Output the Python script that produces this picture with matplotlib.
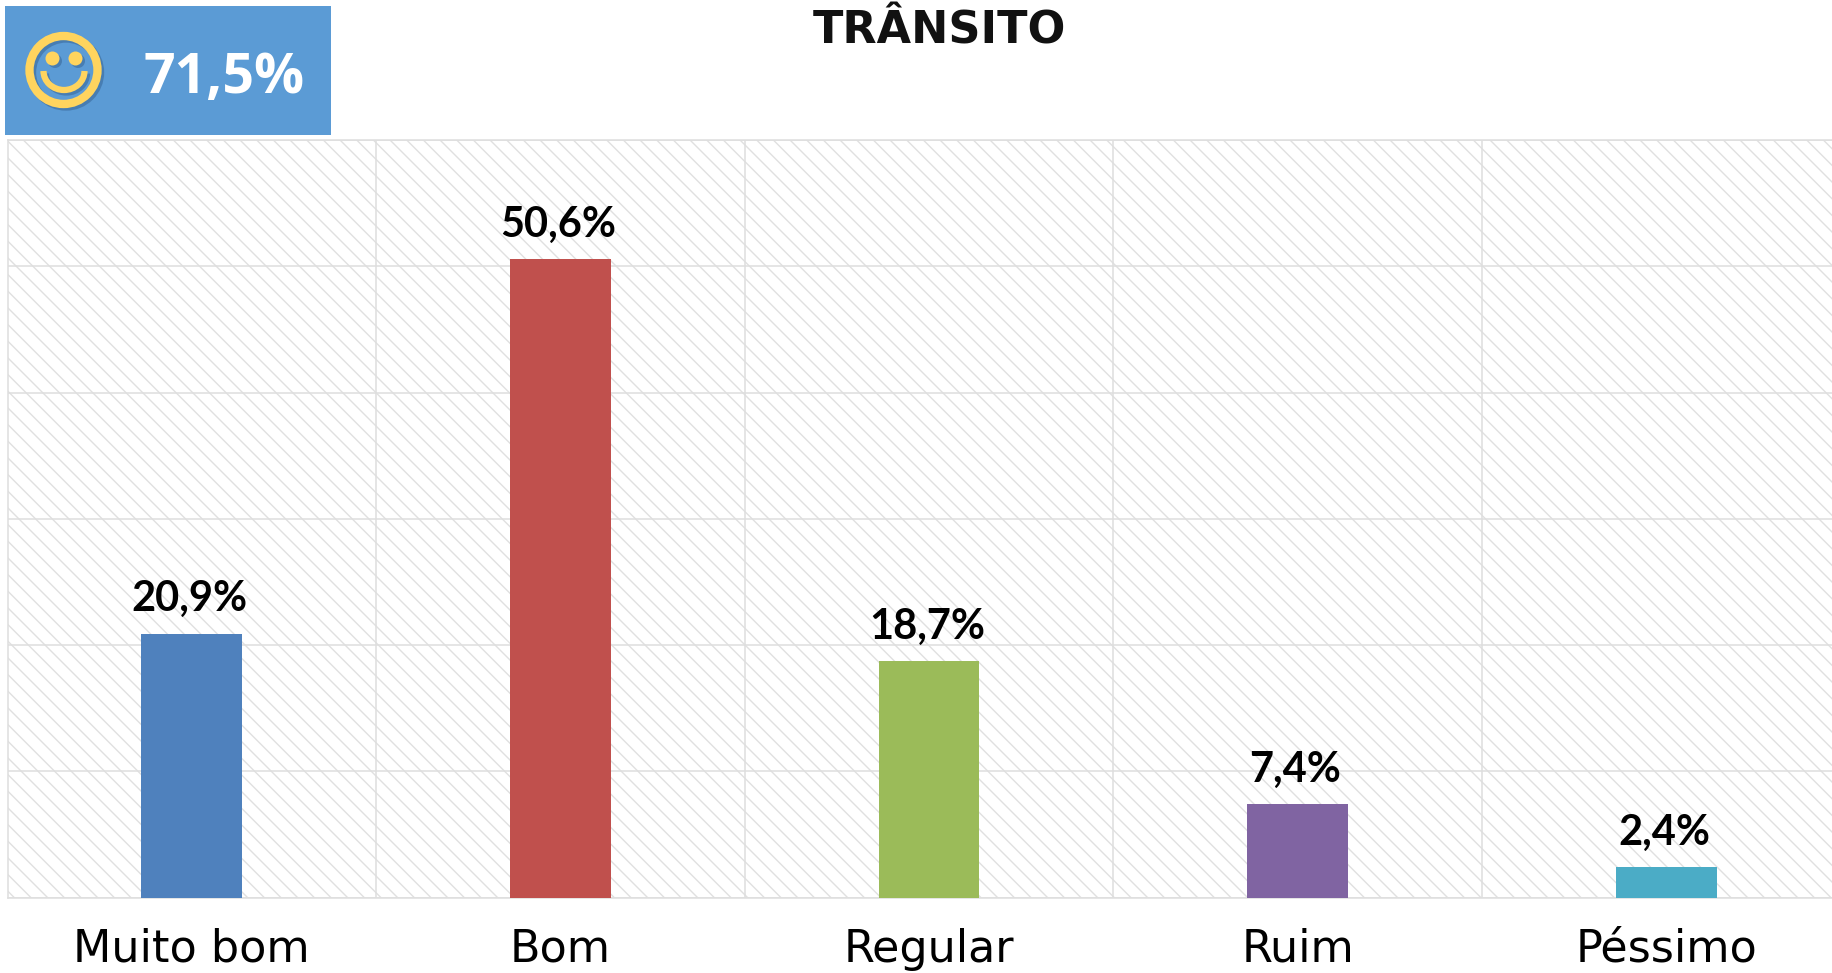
import matplotlib
matplotlib.use('Agg')
import matplotlib.pyplot as plt
from matplotlib.patches import Arc, Circle, Rectangle

categories = ['Muito bom', 'Bom', 'Regular', 'Ruim', 'Péssimo']
values = [20.9, 50.6, 18.7, 7.4, 2.4]
value_labels = ['20,9%', '50,6%', '18,7%', '7,4%', '2,4%']
bar_colors = ['#4f81bd', '#c0504d', '#9bbb59', '#8064a2', '#4bacc6']
y_ticks = [0, 10, 20, 30, 40, 50, 60]

W, H = 1833, 973
GRID = '#dedede'

plt.rcParams['hatch.linewidth'] = 1.0
fig = plt.figure(figsize=(W / 100, H / 100), dpi=100)

# plot area, from pixel positions in the reference
left, right, top, bottom = 7.5, 1833, 140, 897.5
ax = fig.add_axes([left / W, 1 - bottom / H, (right - left) / W, (bottom - top) / H])

x = list(range(len(categories)))

ax.patch.set_facecolor('white')
ax.patch.set_edgecolor('#e0e0e0')
ax.patch.set_hatch('\\\\')
ax.patch.set_linewidth(0)

ax.bar(x, values, width=0.274, color=bar_colors, zorder=3)
for i in x:
    ax.annotate(value_labels[i], (i, values[i]), xytext=(-1.5, 16), textcoords='offset points',
                ha='center', va='baseline', fontsize=30, fontweight='bold',
                family='Lato', color='black', zorder=4)

ax.set_yticks(y_ticks)
ax.set_yticklabels([])
ax.set_xticks(x)
ax.set_xticklabels(categories, fontsize=32, family='DejaVu Sans', color='black', va='baseline')
ax.set_xticks([i + 0.5 for i in x], minor=True)
ax.tick_params(axis='both', which='both', length=0)
ax.tick_params(axis='x', which='major', pad=46.4)
ax.grid(True, which='major', axis='y', color=GRID, lw=1.1, zorder=1)
ax.grid(True, which='minor', axis='x', color=GRID, lw=1.1, zorder=1)
ax.set_axisbelow(True)

# last column runs off the right side of the image, limits go after the ticks
cat_width = 368.6
ax.set_xlim(-0.5, -0.5 + (right - left) / cat_width)
ax.set_ylim(0, 60)

for s in ax.spines.values():
    s.set_color(GRID)
    s.set_linewidth(1.1)
ax.spines['right'].set_visible(False)

fig.text(939 / W, 1 - 43 / H, 'TRÂNSITO', ha='center', va='baseline',
         fontsize=32, fontweight='bold', family='DejaVu Sans', color='#111111')

# banner with smiley, drawn in pixel coordinates
over = fig.add_axes([0, 0, 1, 1], facecolor='none')
over.set_xlim(0, W)
over.set_ylim(H, 0)
over.axis('off')
over.add_patch(Rectangle((5.5, 6), 325.5, 129, color='#5b9bd5', lw=0))

YEL = '#ffd45e'
SHADOW = '#3b6a9c'
for dx, col, a in [(2.5, SHADOW, 0.6), (0, YEL, 1)]:
    over.add_patch(Circle((63.5 + dx, 70 + dx), 34, fill=False, ec=col, lw=6, alpha=a))
    over.add_patch(Circle((52.5 + dx, 58.5 + dx), 7, color=col, lw=0, alpha=a))
    over.add_patch(Circle((75.5 + dx, 58.5 + dx), 7, color=col, lw=0, alpha=a))
    over.add_patch(Arc((64 + dx, 71 + dx), 41, 38, theta1=0, theta2=180, ec=col, lw=4.5, alpha=a,
                       capstyle='butt'))

over.text(224, 93, '71,5%', ha='center', va='baseline', color='white', fontsize=40,
          fontweight='bold', family='Open Sans')

fig.savefig('out.png', dpi=100)
